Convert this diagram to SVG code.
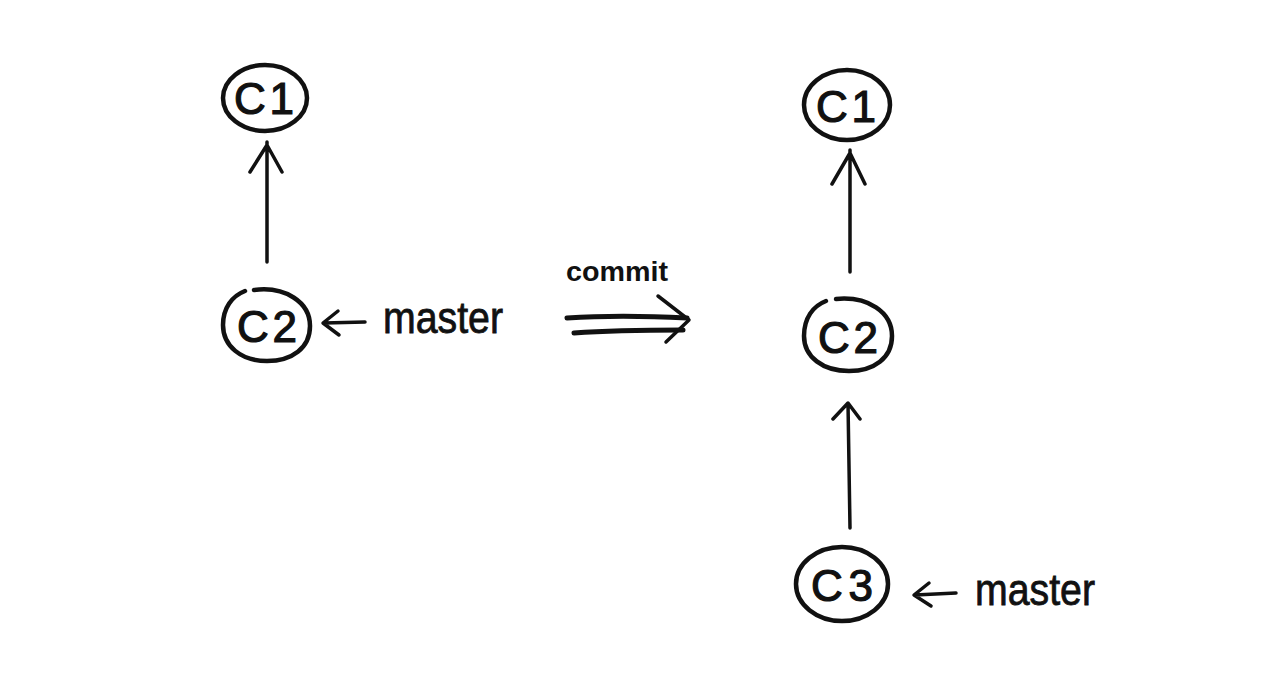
<svg xmlns="http://www.w3.org/2000/svg" width="1280" height="699" viewBox="0 0 1280 699">
<style>
.ring{fill:none;stroke:#111;stroke-width:4.5;stroke-linecap:round}
.ln{fill:none;stroke:#111;stroke-width:3.5;stroke-linecap:round;stroke-linejoin:round}
.thick{fill:none;stroke:#111;stroke-width:5;stroke-linecap:round;stroke-linejoin:round}
.lbl{font-family:"Liberation Sans","DejaVu Sans",sans-serif;font-size:44px;fill:#111;stroke:#111;stroke-width:1.2}
.txt{font-family:"Liberation Sans","DejaVu Sans",sans-serif;font-size:44px;fill:#111;stroke:#111;stroke-width:0.8}
.small{font-family:"Liberation Sans","DejaVu Sans",sans-serif;font-size:28px;font-weight:bold;fill:#111}
</style>
<rect width="1280" height="699" fill="#fff"/>
<g id="left-c1">
<ellipse class="ring" cx="265" cy="98" rx="42" ry="33"/>
<text class="lbl" x="234" y="114" textLength="60" lengthAdjust="spacing">C1</text>
</g>
<g id="left-c2">
<path class="ring" d="M254 290 C285 286 310 302 310 326 C310 348 292 361 267 361 C241 361 223 346 223 325 C223 308 232 296 245 291"/>
<text class="lbl" x="237" y="342" textLength="60" lengthAdjust="spacing">C2</text>
</g>
<g id="left-master">
<text class="txt" x="383" y="333" textLength="120" lengthAdjust="spacingAndGlyphs">master</text>
</g>
<g id="commit-label">
<text class="small" x="566" y="281" textLength="102" lengthAdjust="spacingAndGlyphs">commit</text>
</g>
<g id="right-c1">
<ellipse class="ring" cx="847" cy="105" rx="43" ry="35"/>
<text class="lbl" x="816" y="122" textLength="60" lengthAdjust="spacing">C1</text>
</g>
<g id="right-c2">
<path class="ring" d="M836 299 C868 296 892 312 892 336 C892 358 874 371 849 371 C823 371 804 357 804 336 C804 318 813 306 826 301"/>
<text class="lbl" x="818" y="353" textLength="60" lengthAdjust="spacing">C2</text>
</g>
<g id="right-c3">
<ellipse class="ring" cx="842" cy="584" rx="46" ry="37"/>
<text class="lbl" x="811" y="601" textLength="62" lengthAdjust="spacing">C3</text>
</g>
<g id="right-master">
<text class="txt" x="975" y="605" textLength="120" lengthAdjust="spacingAndGlyphs">master</text>
</g>
<g id="connectors">
<path class="ln" d="M267 262 L267 142 M250 172 L267 145 L282 172"/>
<path class="ln" d="M365 322 L324 323 M338 311 L323 323 L339 335"/>
<path class="thick" d="M567 318 C610 315 650 316 687 318"/>
<path class="thick" d="M574 333 C615 330 650 330 683 330"/>
<path class="ln" d="M658 296 L689 320 L666 342"/>
<path class="ln" d="M850 272 L850 150 M832 184 L850 153 L865 184"/>
<path class="ln" d="M850 528 L848 403 M833 419 L848 403 L860 419"/>
<path class="ln" d="M956 593 L915 595 M929 583 L914 595 L931 606"/>
</g>
</svg>
